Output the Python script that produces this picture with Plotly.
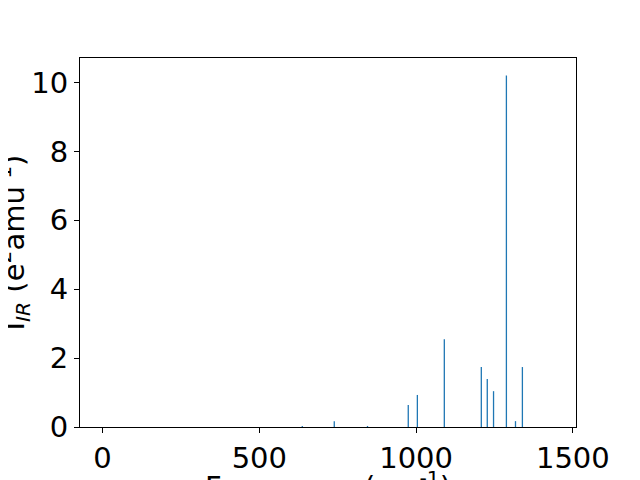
import plotly.graph_objects as go

freqs = [637, 739, 845, 975, 1004, 1090, 1208, 1227, 1247, 1288, 1317, 1339]
intensities = [0.03, 0.17, 0.03, 0.64, 0.93, 2.55, 1.74, 1.39, 1.04, 10.2, 0.17, 1.74]
x_ticks = [0, 500, 1000, 1500]
y_ticks = [0, 2, 4, 6, 8, 10]

xs, ys = [], []
for f, i in zip(freqs, intensities):
    xs += [f, f, None]
    ys += [0, i, None]

fig = go.Figure()
fig.add_trace(go.Scatter(x=xs, y=ys, mode="lines",
                         line=dict(color="#1f77b4", width=1.3),
                         showlegend=False, hoverinfo="skip"))

font = dict(family="DejaVu Sans", size=29, color="black")
fig.update_layout(
    width=640, height=480,
    margin=dict(l=72, r=72, t=50, b=61, autoexpand=False),
    plot_bgcolor="white", paper_bgcolor="white",
    font=font,
    xaxis=dict(range=[-72, 1510], tickvals=x_ticks, showgrid=False, zeroline=False,
               showline=True, mirror=True, linecolor="black", linewidth=1,
               ticks="outside", ticklen=5, tickcolor="black", tickfont=font),
    yaxis=dict(range=[0, 10.71], tickvals=y_ticks, showgrid=False, zeroline=False,
               showline=True, mirror=True, linecolor="black", linewidth=1,
               ticks="outside", ticklen=5, tickcolor="black", tickfont=font),
    annotations=[
        dict(text="I<sub><i>IR</i></sub> (e<sup>2</sup>amu<sup>-1</sup>)", textangle=-90,
             xref="paper", yref="paper", x=0, y=0.5, xanchor="right", yanchor="middle",
             xshift=-44, showarrow=False, font=font),
        dict(text="Frequency (cm<sup>-1</sup>)",
             xref="paper", yref="paper", x=0.5, y=0, xanchor="center", yanchor="top",
             yshift=-37, showarrow=False, font=font),
    ],
)
fig.write_html("out.html")
